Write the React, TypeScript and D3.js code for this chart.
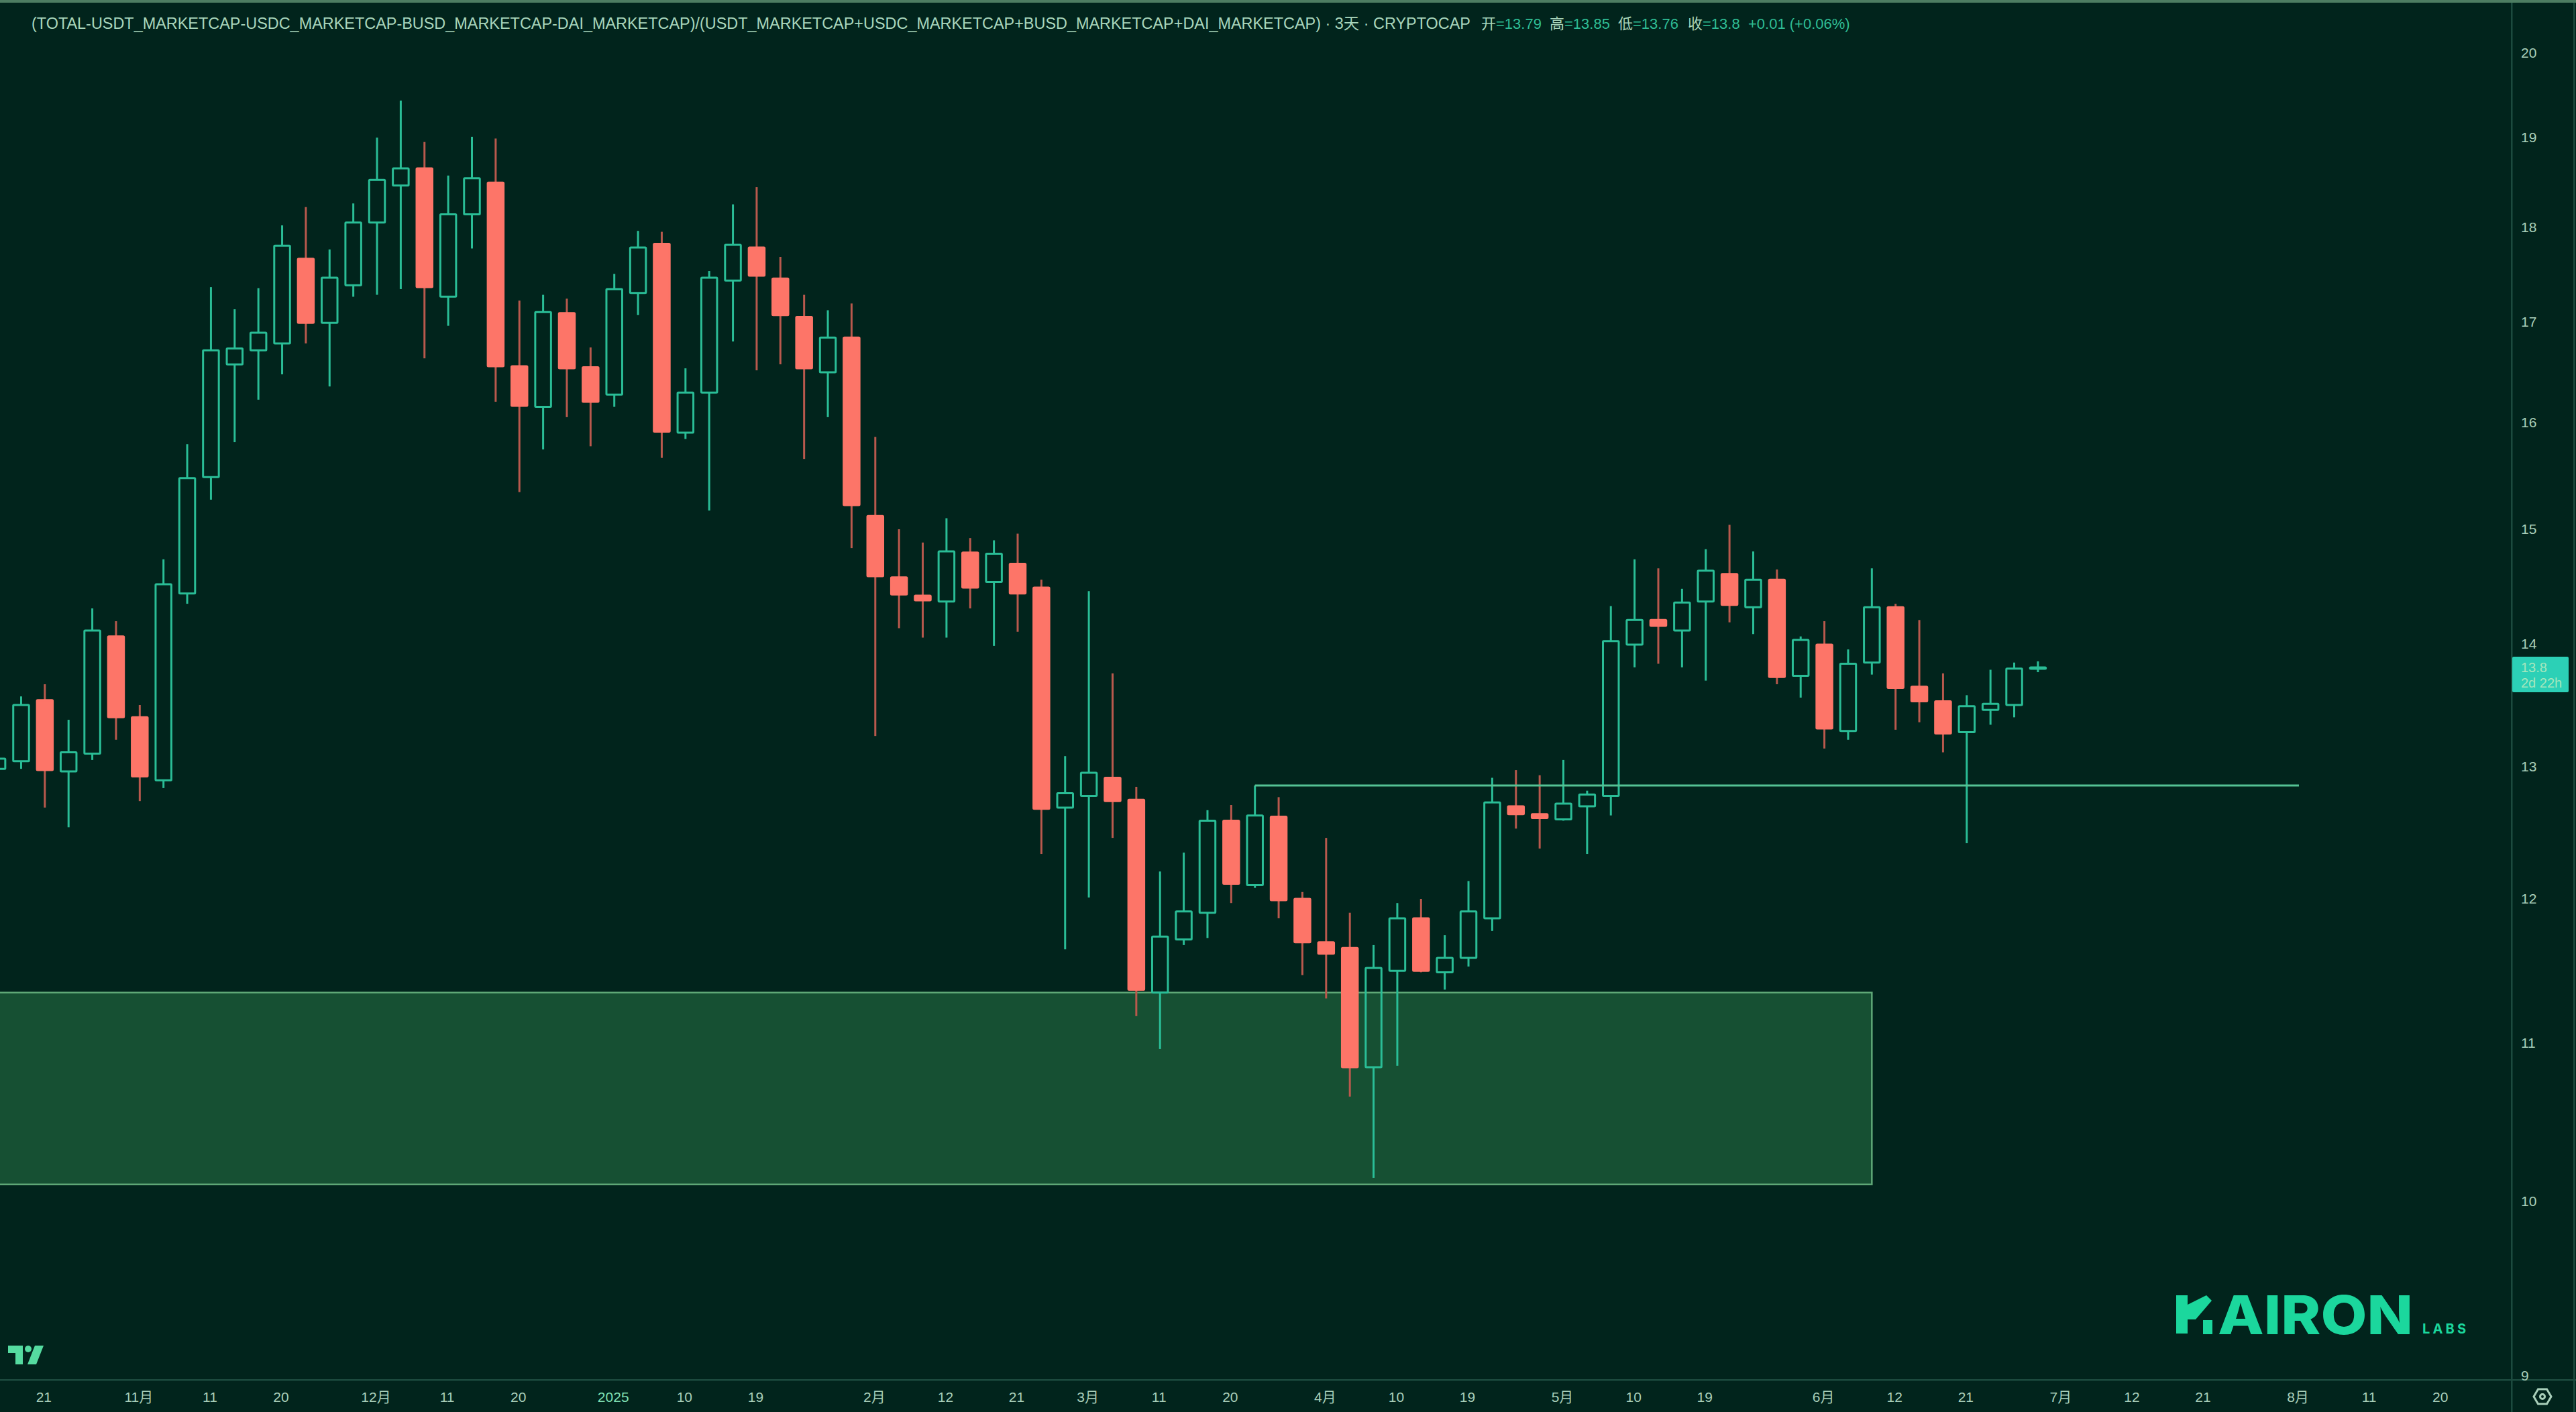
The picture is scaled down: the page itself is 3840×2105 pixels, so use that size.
import React, { useEffect, useRef } from 'react'

import * as d3 from 'd3'

// open, high, low, close per 3 day bar
const opens = [
  12.98, 13.04, 13.53, 12.96, 13.1, 14.06, 13.39, 12.89, 14.43, 15.48, 16.57, 16.71, 16.78, 17.66, 16.99, 17.38,
  18.05, 18.46, 18.65, 17.26, 18.14, 18.49, 16.55, 16.15, 17.09, 16.54, 16.27, 17.3, 17.82, 15.9, 16.29, 17.43,
  17.78, 17.45, 17.05, 16.49, 16.84, 15.12, 14.57, 14.41, 14.36, 14.79, 14.53, 14.69, 14.48, 12.68, 12.77, 12.91,
  12.74, 11.34, 11.71, 11.9, 12.58, 12.1, 12.61, 12.0, 11.69, 11.65, 10.84, 11.49, 11.86, 11.48, 11.58, 11.86,
  12.69, 12.63, 12.59, 12.69, 12.77, 13.99, 14.2, 14.11, 14.36, 14.6, 14.31, 14.55, 13.73, 13.99, 13.28, 13.84,
  14.31, 13.64, 13.52, 13.27, 13.45, 13.49, 13.79,
]
const highs = [
  13.08, 13.56, 13.66, 13.37, 14.3, 14.19, 13.49, 14.73, 15.79, 17.36, 17.13, 17.35, 18.02, 18.22, 17.76, 18.26,
  19.0, 19.43, 18.95, 18.57, 19.01, 18.99, 17.22, 17.28, 17.24, 16.74, 17.5, 17.96, 17.95, 16.53, 17.53, 18.25,
  18.44, 17.68, 17.28, 17.12, 17.19, 15.86, 15.0, 14.88, 15.1, 14.92, 14.9, 14.96, 14.55, 13.08, 14.45, 13.75,
  12.84, 12.2, 12.34, 12.66, 12.7, 12.85, 12.76, 12.05, 12.45, 11.9, 11.67, 11.97, 12.0, 11.74, 12.13, 12.91,
  12.97, 12.93, 13.05, 12.81, 14.32, 14.73, 14.65, 14.47, 14.82, 15.04, 14.8, 14.64, 14.06, 14.19, 13.95, 14.65,
  14.34, 14.2, 13.75, 13.57, 13.78, 13.84, 13.85,
]
const lows = [
  12.97, 12.98, 12.68, 12.53, 13.05, 13.21, 12.73, 12.83, 14.34, 15.27, 15.81, 16.22, 16.47, 16.78, 16.35, 17.26,
  17.28, 17.34, 16.63, 16.96, 17.77, 16.2, 15.34, 15.74, 16.05, 15.77, 16.15, 17.07, 15.66, 15.84, 15.17, 16.8,
  16.51, 16.57, 15.65, 16.05, 14.83, 13.24, 14.13, 14.05, 14.05, 14.3, 13.98, 14.1, 12.33, 11.64, 12.01, 12.45,
  11.18, 10.96, 11.67, 11.72, 11.97, 12.08, 11.86, 11.46, 11.3, 10.65, 10.14, 10.85, 11.48, 11.36, 11.52, 11.77,
  12.52, 12.37, 12.58, 12.33, 12.62, 13.8, 13.83, 13.8, 13.69, 14.18, 14.08, 13.66, 13.55, 13.14, 13.21, 13.74,
  13.29, 13.35, 13.11, 12.41, 13.33, 13.39, 13.76,
]
const closes = [
  13.06, 13.49, 12.97, 13.11, 14.11, 13.39, 12.92, 14.51, 15.47, 16.71, 16.73, 16.89, 17.8, 16.99, 17.46, 18.05,
  18.52, 18.65, 17.36, 18.14, 18.54, 16.55, 16.16, 17.1, 16.53, 16.2, 17.34, 17.78, 15.91, 16.29, 17.46, 17.81,
  17.48, 17.07, 16.53, 16.84, 15.22, 14.58, 14.42, 14.37, 14.8, 14.48, 14.78, 14.43, 12.67, 12.79, 12.95, 12.73,
  11.36, 11.73, 11.91, 12.58, 12.11, 12.62, 11.99, 11.69, 11.61, 10.84, 11.51, 11.86, 11.49, 11.58, 11.91, 12.72,
  12.63, 12.6, 12.71, 12.78, 14.02, 14.2, 14.15, 14.35, 14.63, 14.33, 14.55, 13.72, 14.03, 13.3, 13.83, 14.31,
  13.63, 13.52, 13.26, 13.48, 13.5, 13.79, 13.8,
]

const priceTicks = [9, 10, 11, 12, 13, 14, 15, 16, 17, 18, 19, 20]

// bar slots of the time axis labels
const timeSlots = [
  2, 6, 9, 12, 16, 19, 22, 26, 29, 32, 37, 40, 43, 46, 49, 52, 56, 59, 62, 66, 69, 72, 77, 80, 83, 87, 90, 93, 97,
  100, 103,
]
const timeLabels = [
  '21', '11月', '11', '20', '12月', '11', '20', '2025', '10', '19', '2月', '12', '21', '3月', '11', '20', '4月', '10',
  '19', '5月', '10', '19', '6月', '12', '21', '7月', '12', '21', '8月', '11', '20',
]

// drawn objects
const zoneTop = 11.34
const zoneBottom = 10.1
const zoneEndSlot = 79
const levelPrice = 12.85
const levelStartSlot = 53
const levelEndSlot = 97

const lastPrice = '13.8'
const countdown = '2d 22h'
const titleText =
  '(TOTAL-USDT_MARKETCAP-USDC_MARKETCAP-BUSD_MARKETCAP-DAI_MARKETCAP)/(USDT_MARKETCAP+USDC_MARKETCAP+BUSD_MARKETCAP+DAI_MARKETCAP) · 3天 · CRYPTOCAP'
const ohlcLabels = ['开', '高', '低', '收']
const ohlcValues = ['=13.79', '=13.85', '=13.76', '=13.8']
const changeText = '+0.01 (+0.06%)'

const W = 3840
const H = 2105
const axisX = 3744
const axisY = 2057
const bg = '#01241c'
const up = '#2abd96'
const down = '#fd7568'
const downWick = '#b9594d'
const grid = '#1c4a3e'
const labelColor = '#a9cfba'
const font = '"Liberation Sans", "Noto Sans CJK SC", sans-serif'

const App = () => {
  const svgRef = useRef<SVGSVGElement>(null)

  useEffect(() => {
    if (!svgRef.current) return

    const x = d3.scaleLinear().domain([0, 100]).range([-3.9, 3533.1])
    const y = d3.scaleLog().domain([9, 20]).range([2050.5, 78.5])
    const bodyW = 23.5

    const svg = d3.select(svgRef.current)
    svg.selectAll('*').remove()

    svg.append('rect').attr('width', W).attr('height', H).attr('fill', bg)
    svg.append('rect').attr('width', W).attr('height', 4).attr('fill', '#4d7d62')

    // demand zone
    svg
      .append('rect')
      .attr('x', -10)
      .attr('y', y(zoneTop))
      .attr('width', x(zoneEndSlot) + 10)
      .attr('height', y(zoneBottom) - y(zoneTop))
      .attr('fill', '#165033')
      .attr('stroke', '#5fa877')
      .attr('stroke-width', 2.5)

    // candles
    const bars = d3.range(opens.length)
    const candles = svg.append('g')
    const g = candles
      .selectAll('g')
      .data(bars)
      .join('g')
      .attr('transform', (i) => `translate(${x(i)},0)`)

    const isUp = (i: number) => closes[i] >= opens[i]
    const top = (i: number) => y(Math.max(opens[i], closes[i]))
    const bottom = (i: number) => y(Math.min(opens[i], closes[i]))

    g.append('line')
      .attr('y1', (i) => y(highs[i]))
      .attr('y2', top)
      .attr('stroke', (i) => (isUp(i) ? up : downWick))
      .attr('stroke-width', 3)
    g.append('line')
      .attr('y1', bottom)
      .attr('y2', (i) => y(lows[i]))
      .attr('stroke', (i) => (isUp(i) ? up : downWick))
      .attr('stroke-width', 3)
    g.append('rect')
      .attr('x', -bodyW / 2)
      .attr('y', top)
      .attr('width', bodyW)
      .attr('height', (i) => Math.max(bottom(i) - top(i), 2))
      .attr('rx', 1)
      .attr('fill', (i) => (isUp(i) ? 'none' : down))
      .attr('stroke', (i) => (isUp(i) ? up : down))
      .attr('stroke-width', 3)

    // horizontal level
    svg
      .append('line')
      .attr('x1', x(levelStartSlot))
      .attr('x2', x(levelEndSlot))
      .attr('y1', y(levelPrice))
      .attr('y2', y(levelPrice))
      .attr('stroke', '#55c294')
      .attr('stroke-width', 3)

    // axes frame
    svg.append('rect').attr('x', axisX).attr('y', 4).attr('width', W - axisX).attr('height', H).attr('fill', bg)
    svg.append('rect').attr('x', 0).attr('y', axisY).attr('width', W).attr('height', H - axisY).attr('fill', bg)
    svg.append('rect').attr('x', axisX - 1).attr('y', 4).attr('width', 2.5).attr('height', H).attr('fill', grid)
    svg.append('rect').attr('x', 3836).attr('y', 4).attr('width', 2.5).attr('height', H).attr('fill', grid)
    svg.append('rect').attr('x', 0).attr('y', axisY - 1).attr('width', W).attr('height', 2.5).attr('fill', grid)

    // price axis
    const yAxis = d3
      .axisRight(y)
      .tickValues(priceTicks)
      .tickFormat((d) => String(d))
      .tickSize(0)
    svg
      .append('g')
      .attr('transform', `translate(3758,0)`)
      .call(yAxis)
      .call((s) => s.select('.domain').remove())
      .call((s) =>
        s
          .selectAll('text')
          .attr('x', 0)
          .attr('text-anchor', 'start')
          .attr('fill', labelColor)
          .attr('font-family', font)
          .attr('font-size', 21),
      )

    // time axis
    const xAxis = d3
      .axisBottom(x)
      .tickValues(timeSlots)
      .tickFormat((_, i) => timeLabels[i])
      .tickSize(0)
    svg
      .append('g')
      .attr('transform', `translate(-2,${axisY})`)
      .call(xAxis)
      .call((s) => s.select('.domain').remove())
      .call((s) =>
        s
          .selectAll('text')
          .attr('y', 18)
          .attr('fill', (_, i) => (timeLabels[i] === '2025' ? '#7fe0b4' : labelColor))
          .attr('font-family', font)
          .attr('font-size', 21),
      )

    // last price tag
    svg.append('rect').attr('x', axisX + 1).attr('y', 979).attr('width', 84).attr('height', 53).attr('rx', 2).attr('fill', '#2cd0b6')
    const tag = svg.append('g').attr('fill', '#a5e6bd').attr('font-family', font).attr('font-size', 20)
    tag.append('text').attr('x', 3758).attr('y', 1002).text(lastPrice)
    tag.append('text').attr('x', 3758).attr('y', 1025).text(countdown)

    // header
    svg
      .append('text')
      .attr('x', 47)
      .attr('y', 43)
      .attr('fill', '#a9d6bc')
      .attr('font-family', font)
      .attr('font-size', 23)
      .attr('textLength', 2145)
      .attr('lengthAdjust', 'spacingAndGlyphs')
      .text(titleText)

    const headerX = [2208, 2310, 2412, 2516]
    const ohlc = svg.append('g').attr('font-family', font).attr('font-size', 22)
    ohlcLabels.forEach((label, i) => {
      ohlc.append('text').attr('x', headerX[i]).attr('y', 43).attr('fill', '#a9d6bc').text(label)
      ohlc.append('text').attr('x', headerX[i] + 22).attr('y', 43).attr('fill', '#2fbd95').text(ohlcValues[i])
    })
    ohlc.append('text').attr('x', 2606).attr('y', 43).attr('fill', '#2fbd95').text(changeText)

    // tradingview mark
    const tv = svg.append('g').attr('fill', '#55dba0')
    tv.append('path').attr('d', 'M12 2006h22v28h-11v-17h-11z')
    tv.append('circle').attr('cx', 42).attr('cy', 2011).attr('r', 5)
    tv.append('path').attr('d', 'M52 2006h13l-11 28h-13z')

    // settings icon
    const gear = svg.append('g').attr('fill', 'none').attr('stroke', labelColor).attr('stroke-width', 3)
    gear.append('path').attr('d', 'M3777 2082l6.5-11h13l6.5 11-6.5 11h-13z')
    gear.append('circle').attr('cx', 3790).attr('cy', 2082).attr('r', 3.5)

    // watermark, the K is a cut shape in the logo
    const logo = svg.append('g').attr('fill', '#1bd79d')
    logo.append('path').attr('d', 'M3244 1931h17v14l28-14 8 8-24 28h-12v21h-17z')
    logo.append('rect').attr('x', 3284).attr('y', 1968).attr('width', 14).attr('height', 21)
    logo
      .append('text')
      .attr('x', 3306)
      .attr('y', 1989)
      .attr('font-family', 'Inter, "Liberation Sans", sans-serif')
      .attr('font-weight', 800)
      .attr('font-size', 80)
      .attr('textLength', 291)
      .attr('lengthAdjust', 'spacingAndGlyphs')
      .text('AIRON')
    logo
      .append('text')
      .attr('x', 3611)
      .attr('y', 1988)
      .attr('font-family', 'Inter, "Liberation Sans", sans-serif')
      .attr('font-weight', 700)
      .attr('font-size', 20)
      .attr('textLength', 65)
      .text('LABS')
  }, [])

  return <svg ref={svgRef} width={W} height={H} style={{ position: 'absolute', left: 0, top: 0, display: 'block' }} />
}

export default App
